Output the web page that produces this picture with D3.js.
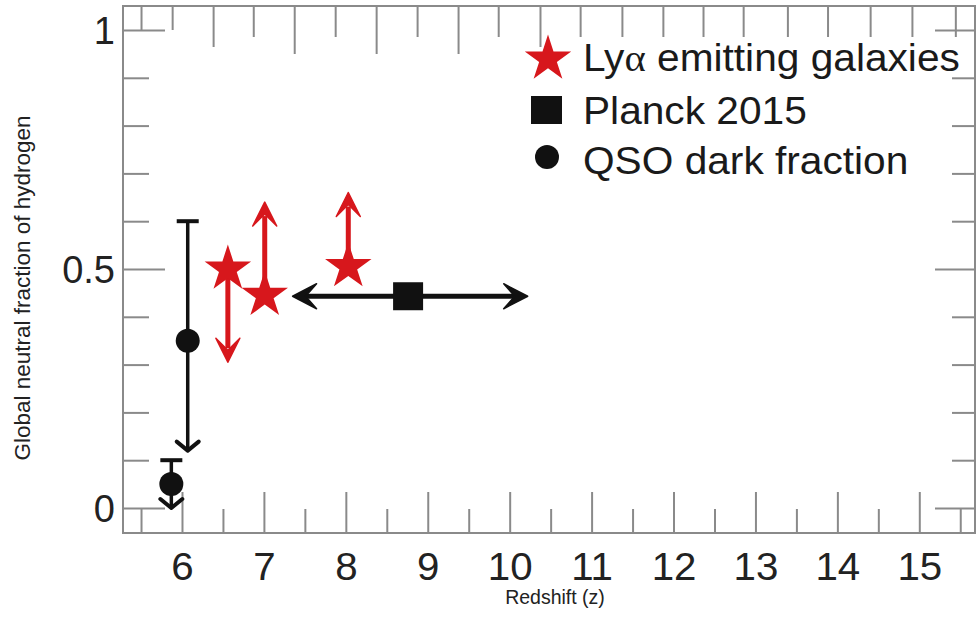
<!DOCTYPE html>
<html><head><meta charset="utf-8">
<script src="https://cdn.jsdelivr.net/npm/d3@7"></script>
<style>body{margin:0;background:#fff}</style>
</head><body>
<svg id="chart" width="976" height="641"></svg>
<script>
// ---- data ----
const xMajorTicks = [6, 7, 8, 9, 10, 11, 12, 13, 14, 15];
const xMinorTicks = [5.5, 6.5, 7.5, 8.5, 9.5, 10.5, 11.5, 12.5, 13.5, 14.5, 15.5];
const yAllTicks = [0, 0.1, 0.2, 0.3, 0.4, 0.5, 0.6, 0.7, 0.8, 0.9, 1];
const yMajorTicks = [0, 0.5, 1];
const yTickLabels = ["0", "0.5", "1"];
const topLongTicks = [7.37, 8.37, 9.37];
const topMidTicks = [6.38, 10.37];
const topShortTicks = [6.87, 7.87, 8.87, 9.86, 10.86, 11.37, 11.87, 12.36, 12.85, 13.39, 13.88, 14.40, 14.91, 15.44];
const topEdgeTicks = [5.5, 5.88];

const lyaZ = [6.56, 7.01, 8.03];
const lyaXHI = [0.50, 0.445, 0.505];
const lyaLimit = [0.305, 0.64, 0.66];

const planckZ = [8.76];
const planckXHI = [0.443];
const planckZLow = [7.35];
const planckZHigh = [10.22];

const qsoZ = [5.87, 6.07];
const qsoXHI = [0.05, 0.35];
const qsoUpper = [0.10, 0.60];
const qsoLowerLimit = [0.0, 0.12];

const legendLabels = ["Ly", "Planck 2015", "QSO dark fraction"];

// ---- layout ----
const svg = d3.select("#chart");
const L = 123, R = 975, T = 6, B = 533;
const x = d3.scaleLinear().domain([5.28, 15.68]).range([L, R]);
const y = d3.scaleLinear().domain([-0.0523, 1.0502]).range([B, T]);
const RED = "#d7171c", BLK = "#111", AX = "#8a8a8a";
const FONT = "'Liberation Sans', Arial, Helvetica, sans-serif";

function styleAxis(g) {
  g.select(".domain").remove();
  g.selectAll(".tick line").attr("stroke", AX).attr("stroke-width", 2);
}

// bottom axis
svg.append("g").attr("transform", `translate(0,${B})`)
  .call(d3.axisBottom(x).tickValues(xMajorTicks).tickSize(-41).tickFormat(d3.format("d")))
  .call(styleAxis)
  .call(g => g.selectAll("text").attr("y", 47).attr("dy", 0)
    .attr("font-family", FONT).attr("font-size", 38).attr("fill", "#222")
    .attr("transform", "scale(1.06,1)"));
svg.append("g").attr("transform", `translate(0,${B})`)
  .call(d3.axisBottom(x).tickValues(xMinorTicks).tickSize(-24).tickFormat(""))
  .call(styleAxis);

// top axis
[[topLongTicks, 48], [topMidTicks, 41], [topShortTicks, 31], [topEdgeTicks, 24]].forEach(([vals, len]) => {
  svg.append("g").attr("transform", `translate(0,${T})`)
    .call(d3.axisTop(x).tickValues(vals).tickSize(-len).tickFormat(""))
    .call(styleAxis);
});

// left axis
svg.append("g").attr("transform", `translate(${L},0)`)
  .call(d3.axisLeft(y).tickValues(yAllTicks.filter(v => !yMajorTicks.includes(v))).tickSize(-26).tickFormat(""))
  .call(styleAxis);
svg.append("g").attr("transform", `translate(${L},0)`)
  .call(d3.axisLeft(y).tickValues(yMajorTicks).tickSize(-42).tickFormat((d, i) => yTickLabels[i]))
  .call(styleAxis)
  .call(g => g.selectAll("text").attr("x", -8).attr("dy", "0.36em")
    .attr("font-family", FONT).attr("font-size", 38).attr("fill", "#222"));

// right axis
svg.append("g").attr("transform", `translate(${R},0)`)
  .call(d3.axisRight(y).tickValues(yAllTicks.filter(v => !yMajorTicks.includes(v))).tickSize(-23).tickFormat(""))
  .call(styleAxis);
svg.append("g").attr("transform", `translate(${R},0)`)
  .call(d3.axisRight(y).tickValues(yMajorTicks).tickSize(-40).tickFormat(""))
  .call(styleAxis);

// frame
svg.append("rect").attr("x", L).attr("y", T).attr("width", R - L).attr("height", B - T)
  .attr("fill", "none").attr("stroke", AX).attr("stroke-width", 2);

// axis titles
svg.append("text").attr("x", 555).attr("y", 604).attr("text-anchor", "middle")
  .attr("font-family", FONT).attr("font-size", 19.5).attr("fill", "#222").text("Redshift (z)");
svg.append("text").attr("transform", `translate(30,${288}) rotate(-90)`).attr("text-anchor", "middle")
  .attr("font-family", FONT).attr("font-size", 22.5).attr("fill", "#222").text("Global neutral fraction of hydrogen");

// arrowhead helper: tip at (tx,ty), direction angle (deg), filled notched head
function arrowHead(g, tx, ty, angle, len, half, notch, color) {
  const p = `M0,0 L${-len},${-half} L${-notch},0 L${-len},${half} Z`;
  g.append("path").attr("d", p).attr("fill", color).attr("stroke", color)
    .attr("stroke-width", 1.5).attr("stroke-linejoin", "round")
    .attr("transform", `translate(${tx},${ty}) rotate(${angle})`);
}

const gData = svg.append("g");

// QSO dark fraction
qsoZ.forEach((z, i) => {
  const cx = x(z), cy = y(qsoXHI[i]), yt = y(qsoUpper[i]), yb = y(qsoLowerLimit[i]);
  gData.append("line").attr("x1", cx).attr("x2", cx).attr("y1", yt).attr("y2", yb)
    .attr("stroke", BLK).attr("stroke-width", 3.5);
  gData.append("line").attr("x1", cx - 11).attr("x2", cx + 11).attr("y1", yt).attr("y2", yt)
    .attr("stroke", BLK).attr("stroke-width", 4);
  gData.append("path").attr("d", `M${cx - 11},${yb - 9} L${cx},${yb} L${cx + 11},${yb - 9}`)
    .attr("fill", "none").attr("stroke", BLK).attr("stroke-width", 4).attr("stroke-linejoin", "round")
    .attr("stroke-linecap", "round");
  gData.append("circle").attr("cx", cx).attr("cy", cy).attr("r", 12).attr("fill", BLK);
});

// Planck 2015
planckZ.forEach((z, i) => {
  const cy = y(planckXHI[i]), x1 = x(planckZLow[i]), x2 = x(planckZHigh[i]);
  gData.append("line").attr("x1", x1 + 12).attr("x2", x2 - 12).attr("y1", cy).attr("y2", cy)
    .attr("stroke", BLK).attr("stroke-width", 5);
  arrowHead(gData, x1, cy, 180, 24, 12.5, 13, BLK);
  arrowHead(gData, x2, cy, 0, 24, 12.5, 13, BLK);
  gData.append("rect").attr("x", x(z) - 15).attr("y", cy - 14).attr("width", 30).attr("height", 28).attr("fill", BLK);
});

// Lya emitting galaxies
const star = d3.symbol().type(d3.symbolStar).size(670);
lyaZ.forEach((z, i) => {
  const cx = x(z), cy = y(lyaXHI[i]), ty = y(lyaLimit[i]);
  const dir = ty < cy ? -1 : 1;
  gData.append("line").attr("x1", cx).attr("x2", cx).attr("y1", cy).attr("y2", ty - dir * 14)
    .attr("stroke", RED).attr("stroke-width", 5);
  arrowHead(gData, cx, ty, dir < 0 ? -90 : 90, 24, 12, 12, RED);
});
lyaZ.forEach((z, i) => {
  gData.append("path").attr("d", star()).attr("fill", RED)
    .attr("transform", `translate(${x(z)},${y(lyaXHI[i])})`);
});

// legend
const lg = svg.append("g");
const legY = [57, 110, 160];
lg.append("path").attr("d", star()).attr("fill", RED).attr("transform", `translate(548,${legY[0] + 2})`);
lg.append("rect").attr("x", 531).attr("y", legY[1] - 14).attr("width", 31).attr("height", 28).attr("fill", BLK);
lg.append("circle").attr("cx", 547).attr("cy", legY[2] - 3).attr("r", 12).attr("fill", BLK);
legendLabels.forEach((t, i) => {
  const tx = lg.append("text").attr("x", 0).attr("y", 0)
    .attr("transform", `translate(583,${legY[i] + 14}) scale(1.07,1)`)
    .attr("font-family", FONT).attr("font-size", 38).attr("fill", "#1a1a1a");
  if (i === 0) {
    tx.append("tspan").text("Ly");
    tx.append("tspan").attr("font-family", "'Liberation Serif', 'DejaVu Serif', serif").text("\u03b1");
    tx.append("tspan").text(" emitting galaxies");
  } else {
    tx.text(t);
  }
});
</script>
</body></html>
